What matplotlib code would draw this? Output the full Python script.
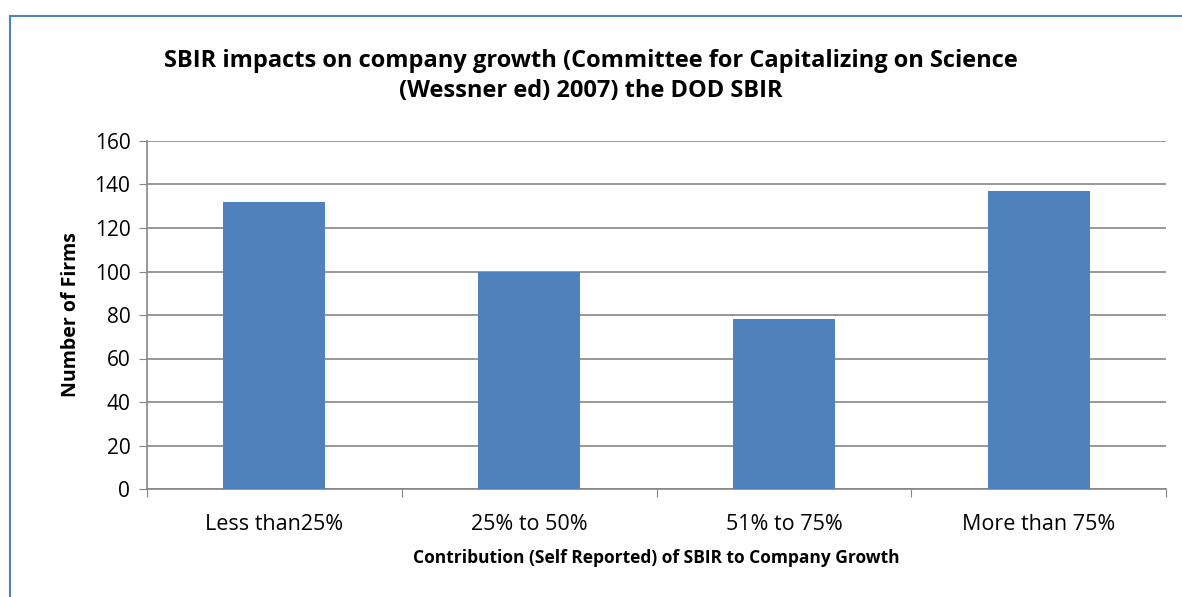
import matplotlib
matplotlib.use("Agg")
import matplotlib.pyplot as plt
from matplotlib.patches import Rectangle

categories = ["Less than25%", "25% to 50%", "51% to 75%", "More than 75%"]
values = [132, 100, 78, 137]
yticks = [0, 20, 40, 60, 80, 100, 120, 140, 160]

plt.rcParams['font.family'] = ['Open Sans', 'DejaVu Sans']

W, H = 1182, 597
fig = plt.figure(figsize=(W/100, H/100), dpi=100)
ax = fig.add_axes([147/W, 1-489/H, (1166-147)/W, (489-141)/H])

fig.patches.append(Rectangle((10/W, -0.1), 1.5, 1-16/H+0.1, transform=fig.transFigure,
                             fill=False, edgecolor='#4F81BD', linewidth=1.5))

x = range(len(categories))
ax.bar(x, values, width=0.4, color='#4F81BD', zorder=3)
ax.set_xlim(-0.5, 3.5)
ax.set_ylim(0, 160)
ax.set_yticks(yticks)
ax.set_xticks([-0.5, 0.5, 1.5, 2.5, 3.5], minor=False)
ax.set_xticklabels([])
ax.set_xticks(list(x), minor=True)
ax.set_xticklabels(categories, minor=True, fontsize=15.5)
ax.tick_params(axis='x', which='minor', length=0, pad=18)
ax.tick_params(axis='x', which='major', length=6, direction='out', color='#868686')
ax.tick_params(axis='y', length=6, direction='out', color='#868686', labelsize=15, pad=6)
ax.grid(axis='y', color='#868686', linewidth=1.2, zorder=0)
for s in ['top', 'right']:
    ax.spines[s].set_visible(False)
for s in ['left', 'bottom']:
    ax.spines[s].set_color('#868686')
    ax.spines[s].set_linewidth(1.2)

ax.set_ylabel("Number of Firms", fontsize=14, fontweight='bold', labelpad=10)
ax.set_xlabel("Contribution (Self Reported) of SBIR to Company Growth", fontsize=12.5, fontweight='bold', labelpad=10)
fig.text(0.5, 1-76/H, "SBIR impacts on company growth (Committee for Capitalizing on Science\n(Wessner ed) 2007) the DOD SBIR",
         ha='center', va='center', fontsize=17, fontweight='bold', linespacing=1.35)

fig.savefig("out.png", dpi=100)
